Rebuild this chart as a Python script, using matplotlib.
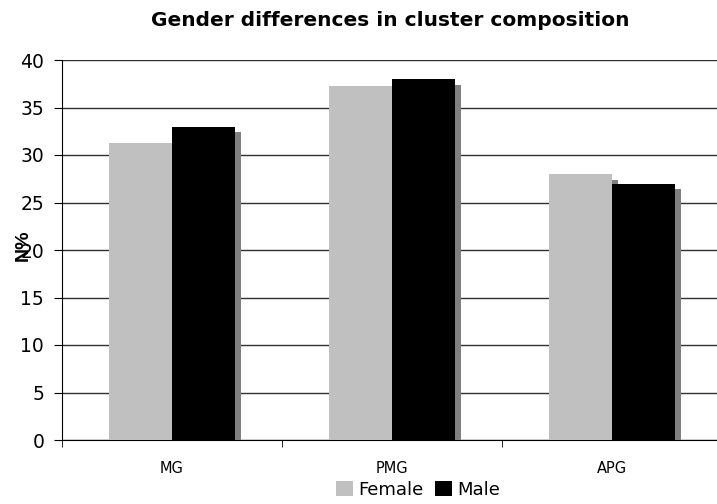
import matplotlib
matplotlib.use("Agg")
import matplotlib.pyplot as plt
import matplotlib.patheffects as pe
from matplotlib.patches import Patch
import numpy as np

#%% Data
clusters = ["MG", "PMG", "APG"]
female = [31.3, 37.3, 28.0]
male = [33.0, 38.0, 27.0]
yticks = [0, 5, 10, 15, 20, 25, 30, 35, 40]

#%% Plot
plt.rcParams['font.family'] = ['DejaVu Sans']

fig = plt.figure(figsize=(7.17, 5.04), dpi=100)
ax = fig.add_axes([62/717, 64/504, 660/717, 380/504])

x = np.arange(len(clusters))
w = 0.287
# drop shadow on each bar, like the old spreadsheet charts
shadow = [pe.SimplePatchShadow(offset=(4.3, -4.3), shadow_rgbFace='#808080', alpha=1.0), pe.Normal()]

b1 = ax.bar(x - w/2, female, w, color='#c0c0c0', zorder=3)
b2 = ax.bar(x + w/2, male, w, color='#000000', zorder=3)
for bar in list(b1) + list(b2):
    bar.set_path_effects(shadow)

ax.set_xlim(-0.5, 2.5)
ax.set_ylim(0, 40)
ax.set_yticks(yticks)
ax.yaxis.grid(True, color='#303030', linewidth=1.0, zorder=0)
ax.set_axisbelow(True)

ax.spines[['right', 'top']].set_visible(False)
ax.spines[['left', 'bottom']].set_color('#000000')
ax.tick_params(axis='y', labelsize=13.5, length=5.8, direction='out', pad=7)

# category labels at centres, ticks on the boundaries
ax.set_xticks(x)
ax.set_xticklabels(clusters, fontsize=10.5)
ax.tick_params(axis='x', which='major', length=0, pad=15)
ax.set_xticks([-0.5, 0.5, 1.5, 2.5], minor=True)
ax.tick_params(axis='x', which='minor', length=5, direction='out')

fig.text(23/717, 1 - 245/504, "N%", rotation=90, ha='center', va='center',
         fontsize=14, fontweight='bold', family='Liberation Sans')

fig.text(0.544, 0.96, "Gender differences in cluster composition", ha='center', va='center',
         fontsize=14.5, fontweight='bold')

handles = [Patch(facecolor='#c0c0c0'), Patch(facecolor='#000000')]
fig.legend(handles=handles, labels=['Female', 'Male'], loc='center', bbox_to_anchor=(0.583, 0.028),
           ncol=2, frameon=False, fontsize=13, handlelength=0.95, handleheight=0.95,
           handletextpad=0.3, columnspacing=0.6, borderpad=0)

fig.savefig("out.png", dpi=100)
